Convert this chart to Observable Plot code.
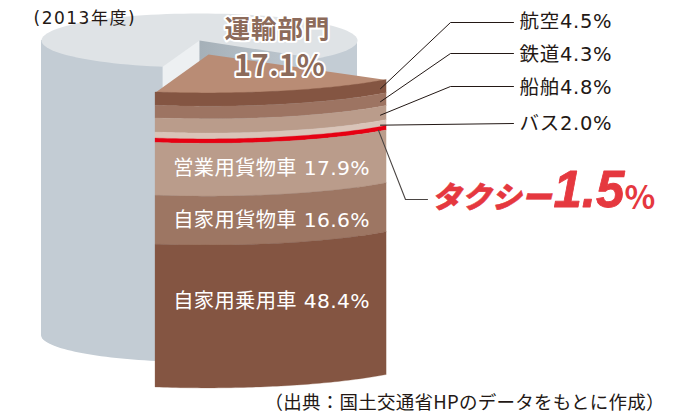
<!DOCTYPE html>
<html lang="ja">
<head>
<meta charset="utf-8">
<script src="https://cdn.jsdelivr.net/npm/d3@7"></script>
<script src="https://cdn.jsdelivr.net/npm/@observablehq/plot@0.6"></script>
<style>
html,body{margin:0;padding:0;background:#fff;}
svg{display:block;}
</style>
</head>
<body>
<div id="chart"></div>
<script>
// ---- data ----
const categories = ["航空","鉄道","船舶","バス","タクシー","営業用貨物車","自家用貨物車","自家用乗用車"];
const shares = [4.5,4.3,4.8,2.0,1.5,17.9,16.6,48.4];
const layerColors = ["#845542","#9d7462","#ba9c8b","#d9c4b8","#e60012","#ba9c8b","#9d7663","#845542"];
const transportLabel = "運輸部門";
const transportShare = d3.sum(shares.slice(0,5));

// ---- layout (pixels of the picture) ----
const W = 684, H = 416;
const pxPerPct = 2.95, stackTop = 92;
const Y = px => (px - stackTop) / pxPerPct;           // picture px -> y-scale percent
const back = {cx:199, cy:40, rx:158, ry:27};
const slice = {cx:206.7, cy:54, rx:237.6, ry:38.9, apexX:208, t0:41};
const rad = d => d * Math.PI / 180;
const sweep = transportShare * 3.6;
const range = (a,b,n=60) => d3.range(n+1).map(i => a + (b-a)*i/n);
const ex = (e,t) => e.cx + e.rx*Math.cos(rad(t));
const ey = (e,t) => e.cy + e.ry*Math.sin(rad(t));

// cumulative layers of the cut-out slice
let acc = 0;
const layers = categories.map((name,i) => { const l = {name, from:acc, to:acc+shares[i], color:layerColors[i]}; acc += shares[i]; return l; });
const sliceT = range(slice.t0, slice.t0 + sweep);
const layerMarks = layers.map(l => Plot.areaY(sliceT, {
  x: t => ex(slice,t),
  y1: t => Y(ey(slice,t)) + l.from,
  y2: t => Y(ey(slice,t)) + l.to,
  fill: l.color, stroke: l.color, strokeWidth: 0.3
}));

// back cylinder
const wholeT = range(0,360,120);
const frontT = range(0,180,80);
const cylHeight = d3.sum(shares);
const cutLeftT = 103.5, cutRightT = cutLeftT - sweep;
const poly = (pts, fill) => Plot.line(pts, {x:d=>d[0], y:d=>Y(d[1]), fill, stroke:"none"});

// leaders: start anchored in the layer they describe
const leaderX = 380;
const tAt = x => Math.acos((x - slice.cx)/slice.rx) * 180 / Math.PI;
const layerMidPx = i => ey(slice,tAt(leaderX)) + (layers[i].from + layers[i].to)/2 * pxPerPct;
const elbowX = 450, labelX = 513;
const rows = [22,53,86,123];
const textRows = [21,54,87,123];
const leaderRows = rows.map((y,i) => i < 3
  ? [[leaderX,layerMidPx(i)+1],[elbowX,y],[labelX,y]]
  : [[leaderX,layerMidPx(i)+1],[labelX,y]]);
const taxiLeader = [[leaderX-2,layerMidPx(4)+1],[405,199],[427,199]];

const rightLabels = [0,1,2,3].map(i => ({text:`${categories[i]}${shares[i].toFixed(1)}%`, y:textRows[i]}));
const innerLabels = [{i:5,y:168},{i:6,y:220},{i:7,y:301}].map(d => ({text:`${categories[d.i]} ${shares[d.i].toFixed(1)}%`, y:d.y}));

const spaced = ls => (index,scales,values,dims,ctx,next) => { const g = next(index,scales,values,dims,ctx); g.style.letterSpacing = ls; return g; };
const FONT = "'DejaVu Sans','Noto Sans CJK JP'";
const JP = "'Noto Sans CJK JP'";

const gradient = () => {
  const defs = d3.create("svg:defs");
  const g = defs.append("linearGradient").attr("id","faceGrad");
  g.append("stop").attr("offset","0").attr("stop-color","#a5b0b8");
  g.append("stop").attr("offset","1").attr("stop-color","#c3ccd4");
  return defs.node();
};

const plot = Plot.plot({
  width:W, height:H, margin:0,
  x:{domain:[0,W], range:[0,W], axis:null},
  y:{domain:[Y(0),Y(H)], range:[0,H], axis:null},
  marks:[
    gradient,
    // back cylinder
    Plot.areaY(frontT,{x:t=>ex(back,t), y1:()=>Y(back.cy), y2:t=>Y(ey(back,t))+cylHeight, fill:"#c3ccd4"}),
    Plot.line(wholeT,{x:t=>ex(back,t), y:t=>Y(ey(back,t)), fill:"#dfe3e6", stroke:"none"}),
    poly([[back.cx,back.cy],[ex(back,cutLeftT),ey(back,cutLeftT)],[ex(back,cutLeftT),150],[back.cx,150]],"#edf0f2"),
    poly([[back.cx,back.cy],[ex(back,cutRightT),ey(back,cutRightT)],[ex(back,cutRightT),150],[back.cx,150]],"url(#faceGrad)"),
    // slice top face
    Plot.line([null,...sliceT].map(t => t===null ? [slice.apexX,slice.cy] : [ex(slice,t),ey(slice,t)]),
      {x:d=>d[0], y:d=>Y(d[1]), fill:"#b98c75", stroke:"none"}),
    // slice layers
    ...layerMarks,
    // leaders
    ...leaderRows.map(pts => Plot.line(pts,{x:d=>d[0], y:d=>Y(d[1]), stroke:"#231815", strokeWidth:1, curve:"linear"})),
    Plot.line(taxiLeader,{x:d=>d[0], y:d=>Y(d[1]), stroke:"#4a4543", strokeWidth:1.1, curve:"linear"}),
    // texts
    Plot.text(["(2013年度)"],{x:()=>33,y:()=>Y(18),text:d=>d,textAnchor:"start",fontSize:17,fontFamily:FONT,fill:"#231815",render:spaced("1.5px")}),
    Plot.text([transportLabel],{x:()=>277,y:()=>Y(29),text:d=>d,fontSize:25.5,fontWeight:700,fontFamily:JP,fill:"#8c6a5a",stroke:"#fff",strokeWidth:4,paintOrder:"stroke",render:spaced("1px")}),
    Plot.text([`${transportShare.toFixed(1)}%`],{x:()=>279,y:()=>Y(66),text:d=>d,fontSize:29,fontWeight:700,fontFamily:JP,fill:"#8c6a5a",stroke:"#fff",strokeWidth:4,paintOrder:"stroke",render:spaced("0.5px")}),
    Plot.text(rightLabels,{x:()=>519,y:d=>Y(d.y),text:"text",textAnchor:"start",fontSize:19.5,fontFamily:FONT,fill:"#231815",render:spaced("0.7px")}),
    Plot.text(innerLabels,{x:()=>271,y:d=>Y(d.y),text:"text",fontSize:20.3,fontFamily:FONT,fill:"#fff",render:spaced("0.35px")}),
    Plot.text([categories[4]],{x:()=>431,y:()=>Y(198),text:d=>d,textAnchor:"start",fontSize:30,fontWeight:900,fontStyle:"italic",fontFamily:JP,fill:"#e5383f",stroke:"#e5383f",strokeWidth:0.5}),
    Plot.text([shares[4].toFixed(1)],{x:()=>553,y:()=>Y(190),text:d=>d,textAnchor:"start",fontSize:51,fontWeight:700,fontStyle:"italic",fontFamily:"'Liberation Sans'",fill:"#e5383f",stroke:"#e5383f",strokeWidth:0.8}),
    Plot.text(["%"],{x:()=>624,y:()=>Y(198),text:d=>d,textAnchor:"start",fontSize:32,fontWeight:700,fontFamily:JP,fill:"#e5383f"}),
    Plot.text(["（出典：国土交通省HPのデータをもとに作成）"],{x:()=>264,y:()=>Y(403),text:d=>d,textAnchor:"start",fontSize:18.5,fontFamily:JP,fill:"#231815",render:spaced("0.25px")})
  ]
});
document.getElementById("chart").appendChild(plot);
</script>
</body>
</html>
